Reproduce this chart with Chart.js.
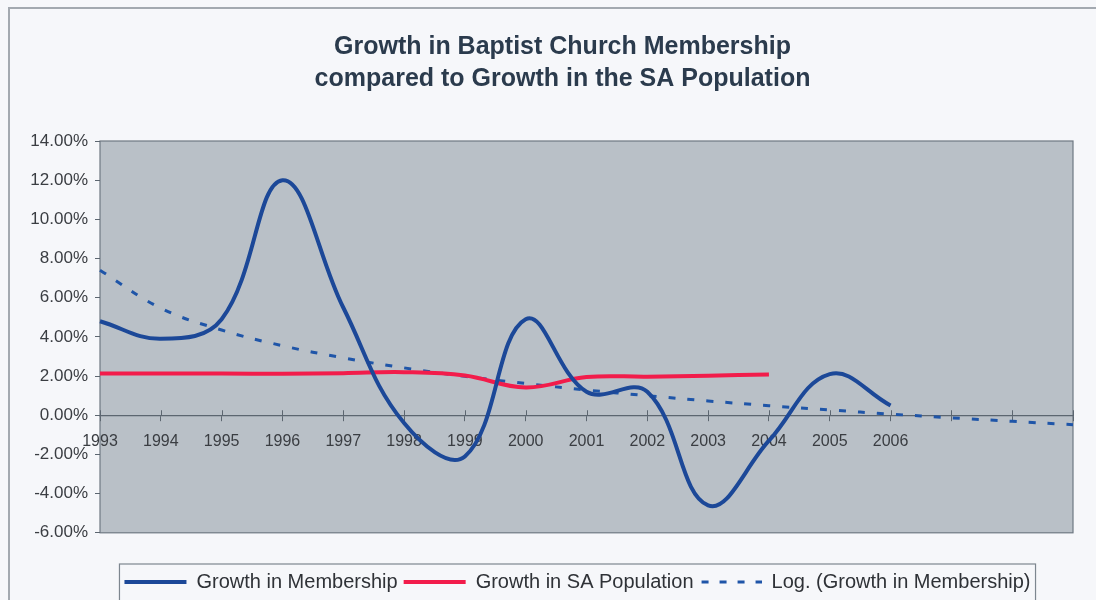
<!DOCTYPE html>
<html>
<head>
<meta charset="utf-8">
<script src="https://cdn.jsdelivr.net/npm/chart.js@4.4.1/dist/chart.umd.min.js"></script>
<style>
  html, body { margin: 0; padding: 0; background: #f6f7fa; overflow: hidden; }
  #wrap { position: relative; width: 1096px; height: 604px; }
</style>
</head>
<body>
<div id="wrap"><canvas id="growthChart"></canvas></div>
<script>
const years = ["1993", "1994", "1995", "1996", "1997", "1998", "1999", "2000",
  "2001", "2002", "2003", "2004", "2005", "2006", "2007", "2008", "2009"];
const lastLabelled = 13; // no year text after 2006

// growth in membership, percent
const membership = [4.8, 3.9, 4.9, 12.0, 5.5, -0.4, -2.1, 4.9, 1.2, 1.2, -4.6, -1.3, 2.1, 0.5];
// growth in SA population, percent
const population = [2.13, 2.13, 2.13, 2.12, 2.15, 2.2, 2.03, 1.42, 1.95, 1.97, 2.02, 2.08];
// log trend of membership
const logTrend = [7.40, 5.47, 4.35, 3.55, 2.93, 2.42, 1.99, 1.62, 1.29, 1.00, 0.73,
  0.49, 0.27, 0.06, -0.13, -0.31, -0.48];

const yMin = -6, yMax = 14, yStep = 2;

const FONT = "'Liberation Sans', Arial, sans-serif";
const BLUE = "#1c4898", RED = "#f21c4b", TREND = "#1f55a8";
const legendShift = 41, titleShift = 26;

// dashed swatch for the trend entry in the legend
const dashSwatch = document.createElement("canvas");
dashSwatch.width = 62;
dashSwatch.height = 4;
(function () {
  const g = dashSwatch.getContext("2d");
  g.strokeStyle = TREND;
  g.lineWidth = 3;
  g.setLineDash([7, 11]);
  g.beginPath();
  g.moveTo(2, 2);
  g.lineTo(62, 2);
  g.stroke();
})();

// grey plot area, outer frame, crossing ticks and legend box
const frame = {
  id: "frame",
  afterLayout(chart) {
    chart.legend.left += legendShift;
    chart.legend.right += legendShift;
    chart.titleBlock.left += titleShift;
    chart.titleBlock.right += titleShift;
  },
  beforeDraw(chart) {
    const c = chart.ctx;
    c.save();
    c.fillStyle = "#f6f7fa";
    c.fillRect(0, 0, chart.width, chart.height);
    c.strokeStyle = "#a3a9b0";
    c.lineWidth = 2;
    c.beginPath();
    c.moveTo(9, chart.height + 5);
    c.lineTo(9, 8);
    c.lineTo(chart.width + 5, 8);
    c.stroke();
    const a = chart.chartArea;
    c.fillStyle = "#b9c0c7";
    c.fillRect(a.left, a.top, a.right - a.left, a.bottom - a.top);
    c.strokeStyle = "#6e7882";
    c.lineWidth = 1.2;
    c.strokeRect(a.left, a.top, a.right - a.left, a.bottom - a.top);
    c.restore();
  },
  beforeDatasetsDraw(chart) {
    const xs = chart.scales.x, ys = chart.scales.y;
    const y0 = ys.getPixelForValue(0);
    const c = chart.ctx;
    c.save();
    c.strokeStyle = "#5c6670";
    c.lineWidth = 1;
    c.beginPath();
    xs.ticks.forEach((t, i) => {
      const x = Math.round(xs.getPixelForTick(i)) + 0.5;
      c.moveTo(x, y0 - 5);
      c.lineTo(x, y0);
    });
    c.stroke();
    c.restore();
  },
  afterDraw(chart) {
    const lg = chart.legend;
    if (!lg.lineWidths) return;
    const rowW = lg.lineWidths[0];
    const start = (lg.left + 6 + lg.right - rowW) / 2;
    const c = chart.ctx;
    c.save();
    c.strokeStyle = "#7d868f";
    c.lineWidth = 1.2;
    c.strokeRect(start - 5, 564, rowW + 4, 44);
    c.restore();
  }
};

new Chart(document.getElementById("growthChart"), {
  type: "line",
  data: {
    labels: years,
    datasets: [
      {
        label: "Growth in Membership",
        data: membership,
        borderColor: BLUE,
        backgroundColor: BLUE,
        borderWidth: 4,
        tension: 0.4,
        pointRadius: 0,
        pointStyle: "line",
        order: 1
      },
      {
        label: "Growth in SA Population",
        data: population,
        borderColor: RED,
        backgroundColor: RED,
        borderWidth: 4,
        tension: 0.4,
        pointRadius: 0,
        pointStyle: "line",
        order: 2
      },
      {
        label: "Log. (Growth in Membership)",
        data: logTrend,
        borderColor: TREND,
        backgroundColor: TREND,
        borderWidth: 3,
        borderDash: [7, 12],
        tension: 0.4,
        pointRadius: 0,
        pointStyle: dashSwatch,
        order: 3
      }
    ]
  },
  options: {
    responsive: true,
    maintainAspectRatio: false,
    animation: false,
    layout: { padding: { left: 0, right: 23, top: 0, bottom: 2 } },
    scales: {
      x: {
        type: "category",
        position: { y: 0 },
        offset: false,
        grid: { drawOnChartArea: false, drawTicks: true, tickLength: 5, color: "#5c6670" },
        border: { display: true, color: "#5c6670", width: 1.2 },
        ticks: {
          autoSkip: false,
          maxRotation: 0,
          padding: 12,
          color: "#3a3d42",
          font: { family: FONT, size: 16 },
          callback: (v, i) => (i <= lastLabelled ? years[i] : "")
        }
      },
      y: {
        min: yMin,
        max: yMax,
        afterFit(scale) { scale.width = 100; },
        grid: { drawOnChartArea: false, drawTicks: true, tickLength: 5, color: "#5c6670" },
        border: { display: false },
        ticks: {
          stepSize: yStep,
          padding: 7,
          color: "#3a3d42",
          font: { family: FONT, size: 17 },
          callback: v => v.toFixed(2) + "%"
        }
      }
    },
    plugins: {
      title: {
        display: true,
        text: ["Growth in Baptist Church Membership", "compared to Growth in the SA Population"],
        color: "#2b3b4d",
        font: { family: FONT, size: 25, weight: "bold", lineHeight: 1.28 },
        padding: { top: 31, bottom: 46 }
      },
      legend: {
        position: "bottom",
        title: { display: true, text: "", font: { size: 1 }, padding: { top: 32, bottom: 0 } },
        labels: {
          color: "#2f3237",
          font: { family: FONT, size: 20 },
          usePointStyle: true,
          pointStyleWidth: 62,
          boxWidth: 62,
          padding: 6
        }
      },
      tooltip: { enabled: false }
    }
  },
  plugins: [frame]
});
</script>
</body>
</html>
